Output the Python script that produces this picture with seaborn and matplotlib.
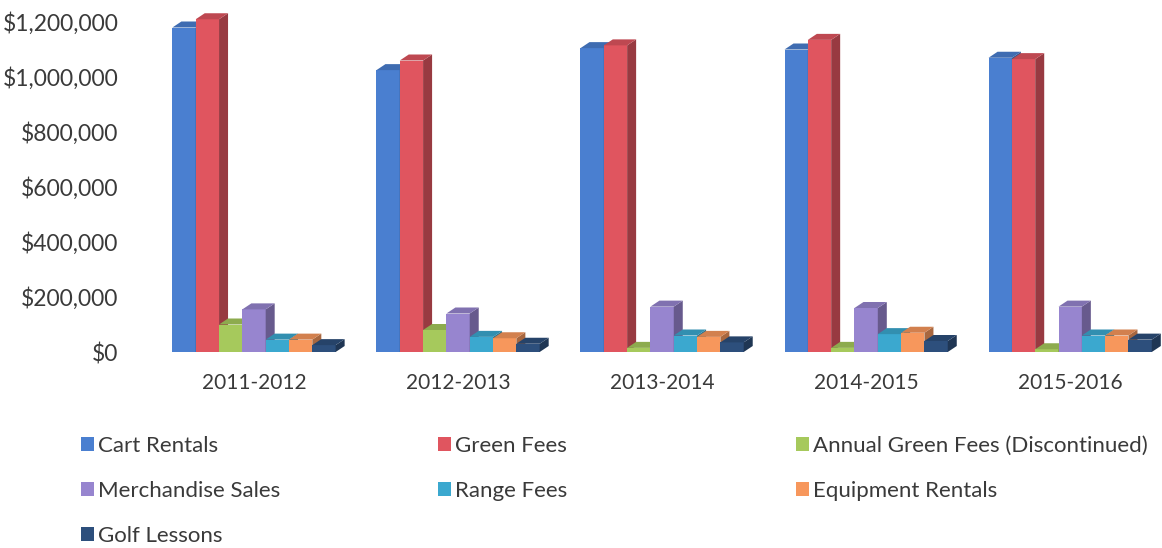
import matplotlib
matplotlib.use("Agg")
import matplotlib.pyplot as plt
import matplotlib.colors as mcolors
from matplotlib.patches import Polygon, Patch
from matplotlib.ticker import FuncFormatter
import seaborn as sns
import pandas as pd
import numpy as np

seasons = ["2011-2012", "2012-2013", "2013-2014", "2014-2015", "2015-2016"]
categories = ["Cart Rentals", "Green Fees", "Annual Green Fees (Discontinued)",
              "Merchandise Sales", "Range Fees", "Equipment Rentals", "Golf Lessons"]
cart_rentals = [1180000, 1025000, 1105000, 1100000, 1070000]
green_fees = [1210000, 1060000, 1115000, 1135000, 1065000]
annual_green_fees = [100000, 80000, 15000, 15000, 10000]
merchandise_sales = [155000, 140000, 165000, 160000, 165000]
range_fees = [45000, 55000, 60000, 65000, 60000]
equipment_rentals = [45000, 50000, 55000, 70000, 60000]
golf_lessons = [25000, 30000, 35000, 40000, 45000]
y_ticks = [0, 200000, 400000, 600000, 800000, 1000000, 1200000]

series = [cart_rentals, green_fees, annual_green_fees, merchandise_sales,
          range_fees, equipment_rentals, golf_lessons]
colors = ["#4a7fd0", "#e0555f", "#a6c95c", "#9785cf", "#3ba8cf", "#f7975c", "#2d4f7c"]

rows = []
for cat, vals in zip(categories, series):
    for s, v in zip(seasons, vals):
        rows.append({"Season": s, "Category": cat, "Revenue": v})
df = pd.DataFrame(rows)

sns.set_theme(style="white")
plt.rcParams["font.family"] = ["Lato", "DejaVu Sans"]

fig = plt.figure(figsize=(11.62, 5.48), dpi=100)
ax = fig.add_axes([152 / 1162, 1 - 352 / 548, 1010 / 1162, 330 / 548])

sns.barplot(data=df, x="Season", y="Revenue", hue="Category", hue_order=categories,
            order=seasons, palette=colors, saturation=1, width=0.80, gap=0,
            legend=False, ax=ax, err_kws={"linewidth": 0})

ax.set_xlim(-0.5, 4.45)
ax.set_ylim(0, 1200000)
ax.set_yticks(y_ticks)
ax.yaxis.set_major_formatter(FuncFormatter(lambda v, p: f"${v:,.0f}"))
ax.set_xlabel("")
ax.set_ylabel("")
for sp in ax.spines.values():
    sp.set_visible(False)
ax.tick_params(axis="y", length=0, pad=24, labelsize=16.5, labelcolor="#3a3a3a")
ax.tick_params(axis="x", length=0, pad=15, labelsize=15, labelcolor="#3a3a3a")

# pseudo-3D depth derived from each bar's geometry
dx = 9 / 204.0
dy = 6 / 275.0 * 1000000
bars = sorted([p for p in ax.patches if p.get_height() > 0], key=lambda p: p.get_x())
for k, p in enumerate(bars):
    x0, w, h = p.get_x(), p.get_width(), p.get_height()
    rgb = np.array(mcolors.to_rgb(p.get_facecolor()))
    side = rgb * 0.68
    top = rgb * 0.85
    z = 2 + k * 0.01
    p.set_zorder(z)
    p.set_edgecolor("none")
    p.set_clip_on(False)
    ax.add_patch(Polygon([(x0 + w, 0), (x0 + w + dx, dy), (x0 + w + dx, h + dy), (x0 + w, h)],
                         closed=True, facecolor=side, edgecolor="none", zorder=z, clip_on=False))
    ax.add_patch(Polygon([(x0, h), (x0 + dx, h + dy), (x0 + w + dx, h + dy), (x0 + w, h)],
                         closed=True, facecolor=top, edgecolor="none", zorder=z, clip_on=False))

handles = [Patch(facecolor=c, edgecolor="none") for c in colors]
cols = [[0, 3, 6], [1, 4], [2, 5]]
col_x = [81 / 1162, 438 / 1162, 796 / 1162]
for idxs, xpos in zip(cols, col_x):
    fig.legend([handles[i] for i in idxs], [categories[i] for i in idxs],
               loc="upper left", bbox_to_anchor=(xpos, 1 - 436 / 548),
               frameon=False, fontsize=16, handlelength=0.6, handleheight=0.6,
               handletextpad=0.15, labelspacing=1.13, borderpad=0, borderaxespad=0,
               labelcolor="#3a3a3a")

fig.savefig("out.png", dpi=100, facecolor="white")
